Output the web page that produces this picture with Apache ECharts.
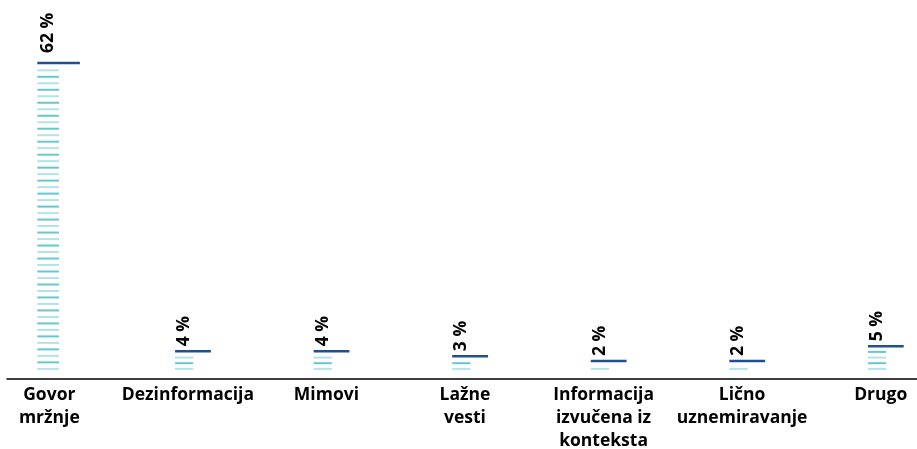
<!DOCTYPE html>
<html>
<head>
<meta charset="utf-8">
<script src="https://cdn.jsdelivr.net/npm/echarts@6/dist/echarts.min.js"></script>
<style>
html,body{margin:0;padding:0;background:#fff;}
#chart{width:917px;height:449px;}
</style>
</head>
<body>
<div id="chart"></div>
<script>
var categories = ['Govor\nmržnje', 'Dezinformacija', 'Mimovi', 'Lažne\nvesti', 'Informacija\nizvučena iz\nkonteksta', 'Lično\nuznemiravanje', 'Drugo'];
var values = [62, 4, 4, 3, 2, 2, 5];

var FONT = '"Open Sans", "Noto Sans", sans-serif';
var chart = echarts.init(document.getElementById('chart'), null, {renderer: 'canvas'});

function renderItem(params, api) {
  var i = api.value(0), v = api.value(1);
  var top = api.coord([i, v]);
  var base = api.coord([i, 0]);
  var first = i === 0;
  var kw = first ? 1.19 : 1;
  var s = first ? 6.49 : 5.65;
  var left = top[0] - (first ? 12 : 12.8);
  var stripeW = 18.2 * kw;
  var lineW = 35.8 * kw;
  var children = [];
  var yb = base[1] - 2.2;
  var n = 0;
  for (var y = yb; y > top[1] + (first ? 4.8 : 4); y -= s, n++) {
    children.push({
      type: 'rect',
      shape: {x: left, y: y - 1, width: stripeW, height: 2},
      style: {fill: n % 2 === 0 ? '#b3e3e7' : '#66c8ce'}
    });
  }
  children.push({
    type: 'rect',
    shape: {x: left, y: top[1] - 1.25, width: lineW, height: 2.5},
    style: {fill: '#214f94'}
  });
  children.push({
    type: 'text',
    x: left + stripeW / 2,
    y: top[1] - (first ? 10 : 5),
    rotation: Math.PI / 2,
    style: {
      text: v + ' %',
      font: 'bold 17.5px ' + FONT,
      fill: '#000',
      align: 'left',
      verticalAlign: 'middle'
    }
  });
  return {type: 'group', children: children};
}

chart.setOption({
  animation: false,
  backgroundColor: '#fff',
  grid: [
    {left: 49.3, right: 36.3, top: 0, bottom: 70, outerBoundsMode: 'none'},
    {left: 7, right: 0, top: 0, bottom: 70, outerBoundsMode: 'none'}
  ],
  xAxis: [{
    type: 'category',
    gridIndex: 0,
    data: categories,
    boundaryGap: false,
    axisLine: {show: false},
    axisTick: {show: false},
    axisLabel: {
      interval: 0,
      margin: 5,
      color: '#000',
      fontFamily: FONT,
      fontWeight: 'bold',
      fontSize: 17.5,
      lineHeight: 23,
      align: 'center'
    }
  }, {
    type: 'value',
    gridIndex: 1,
    min: 0,
    max: 1,
    axisLine: {show: true, onZero: false, lineStyle: {color: '#000', width: 1.5}},
    axisTick: {show: false},
    axisLabel: {show: false},
    splitLine: {show: false}
  }],
  yAxis: [{
    type: 'value',
    gridIndex: 0,
    min: -1.6,
    max: 74.7,
    show: false,
    splitLine: {show: false}
  }, {
    type: 'value',
    gridIndex: 1,
    min: 0,
    max: 1,
    show: false,
    splitLine: {show: false}
  }],
  series: [{
    type: 'custom',
    xAxisIndex: 0,
    yAxisIndex: 0,
    renderItem: renderItem,
    data: values.map(function (v, i) { return [i, v]; }),
    encode: {x: 0, y: 1},
    clip: false
  }]
});
</script>
</body>
</html>
